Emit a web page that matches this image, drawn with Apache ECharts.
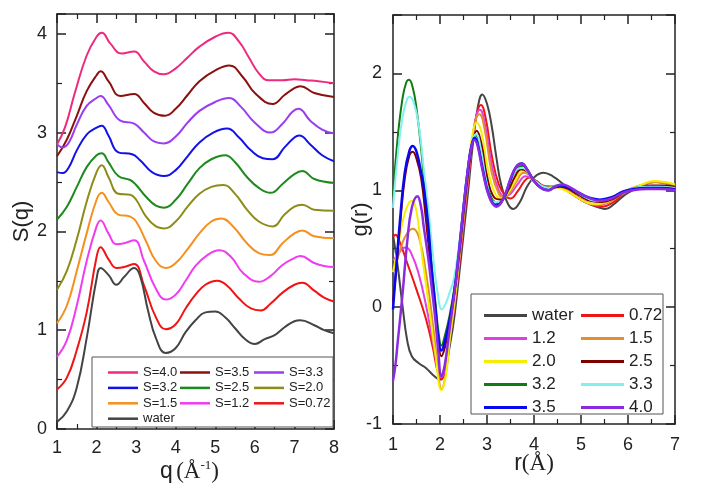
<!DOCTYPE html>
<html><head><meta charset="utf-8">
<script src="https://cdn.jsdelivr.net/npm/echarts@6/dist/echarts.min.js"></script>
<style>html,body{margin:0;padding:0;background:#fff}#c{width:709px;height:498px}</style>
</head><body><div id="c"></div><script>
// ---------- Left panel: S(q) ----------
const sqS40 = [[1.0,2.88],[1.2,3.05],[1.45,3.40],[1.75,3.78],[2.0,3.97],[2.13,4.01],[2.35,3.90],[2.63,3.80],[2.95,3.82],[3.2,3.72],[3.45,3.62],[3.7,3.59],[4.0,3.65],[4.3,3.76],[4.6,3.87],[5.0,3.97],[5.33,4.01],[5.6,3.92],[5.85,3.76],[6.1,3.60],[6.35,3.53],[6.7,3.53],[7.0,3.54],[7.3,3.53],[7.6,3.52],[8.0,3.50]];
const sqS35 = [[1.0,2.76],[1.25,2.93],[1.5,3.17],[1.75,3.42],[2.0,3.58],[2.1,3.62],[2.3,3.52],[2.6,3.37],[2.95,3.39],[3.2,3.30],[3.45,3.20],[3.73,3.17],[4.0,3.24],[4.3,3.38],[4.6,3.52],[5.0,3.63],[5.35,3.68],[5.7,3.56],[6.0,3.40],[6.45,3.29],[6.75,3.38],[7.0,3.45],[7.15,3.47],[7.5,3.40],[8.0,3.36]];
const sqS33 = [[1.0,2.88],[1.15,2.85],[1.3,2.90],[1.5,3.08],[1.75,3.27],[2.0,3.35],[2.1,3.37],[2.3,3.28],[2.6,3.12],[2.95,3.09],[3.2,3.00],[3.45,2.91],[3.7,2.89],[4.0,2.96],[4.3,3.10],[4.6,3.22],[5.0,3.31],[5.35,3.35],[5.65,3.26],[6.0,3.10],[6.4,3.00],[6.7,3.09],[6.95,3.21],[7.1,3.24],[7.4,3.12],[7.7,3.03],[8.0,2.99]];
const sqS32 = [[1.0,2.60],[1.15,2.59],[1.3,2.65],[1.5,2.82],[1.75,2.98],[2.0,3.05],[2.13,3.07],[2.3,2.97],[2.55,2.80],[2.9,2.78],[3.1,2.72],[3.4,2.60],[3.7,2.56],[4.0,2.62],[4.3,2.76],[4.6,2.90],[4.95,3.00],[5.3,3.04],[5.6,2.95],[5.9,2.82],[6.2,2.74],[6.45,2.73],[6.75,2.85],[7.0,2.95],[7.12,2.97],[7.4,2.88],[7.7,2.77],[8.0,2.71]];
const sqS25 = [[1.0,2.12],[1.25,2.25],[1.5,2.45],[1.75,2.65],[2.0,2.77],[2.13,2.79],[2.3,2.70],[2.55,2.56],[2.85,2.52],[3.0,2.47],[3.25,2.35],[3.5,2.26],[3.7,2.24],[4.0,2.32],[4.3,2.48],[4.6,2.64],[4.9,2.73],[5.25,2.77],[5.5,2.70],[5.8,2.55],[6.1,2.44],[6.4,2.39],[6.7,2.48],[7.0,2.58],[7.2,2.61],[7.5,2.53],[8.0,2.49]];
const sqS20 = [[1.0,1.41],[1.25,1.60],[1.5,1.92],[1.75,2.30],[2.0,2.60],[2.13,2.67],[2.3,2.55],[2.55,2.38],[2.85,2.37],[3.0,2.32],[3.25,2.15],[3.5,2.05],[3.7,2.03],[4.0,2.10],[4.3,2.25],[4.6,2.38],[4.9,2.45],[5.2,2.47],[5.5,2.38],[5.8,2.22],[6.1,2.10],[6.45,2.05],[6.75,2.17],[7.0,2.25],[7.2,2.27],[7.5,2.22],[8.0,2.21]];
const sqS15 = [[1.0,1.07],[1.25,1.25],[1.5,1.60],[1.75,1.98],[2.0,2.32],[2.13,2.39],[2.3,2.30],[2.55,2.17],[2.85,2.15],[3.0,2.10],[3.25,1.90],[3.5,1.70],[3.75,1.63],[4.0,1.68],[4.3,1.82],[4.6,1.98],[4.9,2.10],[5.15,2.13],[5.45,2.05],[5.8,1.88],[6.1,1.78],[6.38,1.76],[6.7,1.88],[7.0,1.98],[7.2,2.01],[7.5,1.95],[8.0,1.93]];
const sqS12 = [[1.0,0.73],[1.25,0.90],[1.5,1.25],[1.75,1.70],[2.0,2.05],[2.1,2.11],[2.3,1.98],[2.5,1.87],[2.7,1.88],[2.95,1.91],[3.2,1.70],[3.5,1.42],[3.75,1.31],[4.0,1.36],[4.25,1.50],[4.5,1.65],[4.8,1.76],[5.1,1.81],[5.4,1.74],[5.7,1.58],[6.1,1.49],[6.4,1.55],[6.7,1.66],[7.0,1.73],[7.15,1.75],[7.5,1.68],[7.75,1.65],[8.0,1.64]];
const sqS072 = [[1.0,0.40],[1.25,0.52],[1.5,0.80],[1.75,1.18],[2.0,1.74],[2.1,1.84],[2.3,1.72],[2.5,1.63],[2.7,1.64],[2.95,1.67],[3.2,1.45],[3.5,1.13],[3.75,1.01],[4.0,1.06],[4.25,1.22],[4.5,1.36],[4.75,1.46],[5.05,1.50],[5.3,1.45],[5.6,1.32],[5.9,1.22],[6.15,1.20],[6.4,1.27],[6.7,1.38],[7.0,1.46],[7.2,1.48],[7.5,1.40],[7.75,1.33],[8.0,1.29]];
const sqWater = [[1.0,0.07],[1.25,0.18],[1.5,0.42],[1.75,0.92],[2.0,1.52],[2.1,1.63],[2.3,1.56],[2.5,1.46],[2.7,1.54],[2.95,1.63],[3.1,1.55],[3.3,1.20],[3.5,0.92],[3.75,0.77],[4.0,0.82],[4.25,0.98],[4.5,1.10],[4.75,1.18],[5.0,1.19],[5.25,1.13],[5.5,1.02],[5.75,0.91],[6.0,0.86],[6.25,0.91],[6.5,0.95],[6.75,1.03],[7.0,1.09],[7.15,1.10],[7.5,1.05],[7.75,1.00],[8.0,0.97]];

const sqNames = ['S=4.0','S=3.5','S=3.3','S=3.2','S=2.5','S=2.0','S=1.5','S=1.2','S=0.72','water'];
const sqData = [sqS40,sqS35,sqS33,sqS32,sqS25,sqS20,sqS15,sqS12,sqS072,sqWater];
const sqColors = ['#ec2a7e','#8b1010','#9a3cf0','#1212e8','#1e8a1e','#8c8c18','#f5901e','#f03cf0','#f01414','#444444'];

// ---------- Right panel: g(r) ----------
const grWater = [[1.0,0.62],[1.1,0.35],[1.2,0.02],[1.3,-0.28],[1.4,-0.42],[1.55,-0.48],[1.7,-0.52],[1.85,-0.58],[2.0,-0.62],[2.1,-0.56],[2.2,-0.35],[2.3,-0.1],[2.4,0.25],[2.5,0.62],[2.6,1.0],[2.7,1.4],[2.8,1.7],[2.9,1.82],[3.0,1.74],[3.1,1.55],[3.2,1.28],[3.3,1.05],[3.45,0.88],[3.56,0.84],[3.7,0.9],[3.85,1.03],[4.0,1.11],[4.2,1.15],[4.4,1.12],[4.6,1.06],[4.8,0.99],[5.0,0.92],[5.2,0.88],[5.4,0.85],[5.52,0.84],[5.7,0.88],[5.9,0.95],[6.1,1.0],[6.3,1.02],[6.5,1.03],[6.7,1.03],[7.0,1.02]];
const gr072 = [[1.0,0.60],[1.05,0.62],[1.15,0.55],[1.3,0.38],[1.5,0.15],[1.7,-0.1],[1.85,-0.35],[1.95,-0.55],[2.03,-0.62],[2.12,-0.5],[2.2,-0.28],[2.3,-0.02],[2.4,0.32],[2.5,0.7],[2.6,1.08],[2.7,1.45],[2.8,1.68],[2.87,1.73],[2.97,1.62],[3.1,1.3],[3.25,1.05],[3.4,0.95],[3.5,0.93],[3.65,0.99],[3.8,1.08],[3.9,1.11],[4.05,1.08],[4.2,1.04],[4.4,1.03],[4.6,1.02],[4.8,0.97],[5.0,0.92],[5.2,0.88],[5.45,0.86],[5.7,0.9],[5.9,0.97],[6.1,1.01],[6.3,1.04],[6.55,1.07],[6.8,1.06],[7.0,1.04]];
const gr12 = [[1.0,0.40],[1.1,0.45],[1.2,0.50],[1.28,0.51],[1.4,0.45],[1.55,0.28],[1.7,0.02],[1.85,-0.3],[1.95,-0.5],[2.03,-0.6],[2.12,-0.5],[2.2,-0.27],[2.3,0.0],[2.4,0.35],[2.5,0.73],[2.6,1.1],[2.7,1.46],[2.78,1.65],[2.85,1.69],[2.95,1.58],[3.1,1.22],[3.25,1.0],[3.38,0.95],[3.5,0.97],[3.65,1.05],[3.82,1.12],[3.95,1.10],[4.1,1.05],[4.3,1.03],[4.5,1.04],[4.7,1.0],[4.9,0.95],[5.1,0.9],[5.35,0.87],[5.6,0.9],[5.85,0.97],[6.1,1.02],[6.35,1.05],[6.6,1.07],[6.8,1.06],[7.0,1.04]];
const gr15 = [[1.0,0.30],[1.1,0.42],[1.2,0.55],[1.3,0.63],[1.42,0.67],[1.55,0.6],[1.7,0.3],[1.85,-0.15],[1.95,-0.5],[2.03,-0.70],[2.12,-0.58],[2.2,-0.3],[2.3,0.0],[2.4,0.36],[2.5,0.75],[2.6,1.12],[2.7,1.47],[2.77,1.62],[2.84,1.65],[2.95,1.52],[3.1,1.15],[3.25,0.97],[3.35,0.94],[3.48,0.98],[3.62,1.07],[3.78,1.15],[3.9,1.13],[4.05,1.06],[4.25,1.02],[4.45,1.03],[4.65,1.01],[4.85,0.96],[5.1,0.9],[5.35,0.88],[5.6,0.9],[5.85,0.96],[6.1,1.01],[6.35,1.05],[6.6,1.07],[6.8,1.06],[7.0,1.04]];
const gr20 = [[1.0,0.3],[1.1,0.5],[1.2,0.72],[1.3,0.86],[1.4,0.91],[1.5,0.82],[1.6,0.5],[1.7,0.2],[1.8,-0.1],[1.9,-0.4],[2.03,-0.71],[2.12,-0.6],[2.2,-0.3],[2.3,0.02],[2.4,0.4],[2.5,0.8],[2.6,1.18],[2.7,1.5],[2.78,1.58],[2.88,1.5],[3.0,1.22],[3.15,0.99],[3.3,0.93],[3.45,0.98],[3.6,1.08],[3.75,1.17],[3.87,1.15],[4.0,1.07],[4.2,1.02],[4.4,1.03],[4.6,1.01],[4.8,0.97],[5.05,0.91],[5.3,0.88],[5.55,0.9],[5.8,0.96],[6.05,1.01],[6.3,1.05],[6.55,1.08],[6.8,1.07],[7.0,1.05]];
const gr25 = [[1.0,0.05],[1.07,0.32],[1.15,0.7],[1.25,1.1],[1.35,1.3],[1.42,1.33],[1.5,1.27],[1.6,1.1],[1.7,0.75],[1.8,0.35],[1.9,-0.05],[1.97,-0.32],[2.03,-0.42],[2.1,-0.35],[2.2,-0.15],[2.3,0.1],[2.4,0.42],[2.5,0.8],[2.6,1.15],[2.7,1.42],[2.78,1.51],[2.88,1.4],[3.0,1.12],[3.15,0.94],[3.3,0.92],[3.45,1.0],[3.6,1.12],[3.72,1.18],[3.85,1.16],[4.0,1.09],[4.2,1.03],[4.4,1.02],[4.55,1.03],[4.75,1.01],[4.95,0.96],[5.2,0.91],[5.45,0.9],[5.7,0.93],[5.95,0.99],[6.2,1.02],[6.5,1.04],[6.75,1.04],[7.0,1.03]];
const gr32 = [[1.0,0.95],[1.1,1.45],[1.2,1.78],[1.28,1.92],[1.34,1.945],[1.42,1.88],[1.5,1.7],[1.6,1.35],[1.7,0.9],[1.8,0.45],[1.9,0.05],[1.97,-0.22],[2.03,-0.33],[2.1,-0.25],[2.2,-0.08],[2.3,0.15],[2.4,0.48],[2.5,0.85],[2.6,1.2],[2.68,1.4],[2.76,1.47],[2.85,1.38],[2.95,1.15],[3.1,0.93],[3.25,0.89],[3.4,0.97],[3.52,1.1],[3.65,1.19],[3.76,1.21],[3.88,1.16],[4.0,1.09],[4.2,1.03],[4.35,1.02],[4.5,1.04],[4.65,1.04],[4.85,1.0],[5.05,0.95],[5.3,0.91],[5.55,0.92],[5.8,0.97],[6.05,1.01],[6.35,1.03],[6.65,1.03],[7.0,1.02]];
const gr33 = [[1.0,0.85],[1.1,1.3],[1.2,1.62],[1.3,1.78],[1.36,1.80],[1.45,1.74],[1.55,1.55],[1.65,1.2],[1.75,0.85],[1.85,0.45],[1.95,0.12],[2.04,-0.02],[2.12,0.03],[2.2,0.12],[2.3,0.25],[2.4,0.52],[2.5,0.87],[2.6,1.22],[2.7,1.44],[2.77,1.48],[2.87,1.35],[3.0,1.05],[3.15,0.9],[3.27,0.9],[3.4,0.98],[3.52,1.1],[3.64,1.18],[3.76,1.19],[3.88,1.15],[4.0,1.09],[4.2,1.03],[4.35,1.02],[4.5,1.04],[4.65,1.04],[4.85,1.0],[5.05,0.95],[5.3,0.91],[5.55,0.92],[5.8,0.97],[6.05,1.01],[6.35,1.03],[6.65,1.03],[7.0,1.02]];
const gr35 = [[1.0,-0.02],[1.07,0.35],[1.15,0.75],[1.25,1.15],[1.35,1.34],[1.42,1.38],[1.5,1.33],[1.6,1.15],[1.65,1.04],[1.75,0.7],[1.82,0.33],[1.9,0.0],[1.96,-0.25],[2.03,-0.37],[2.1,-0.3],[2.2,-0.12],[2.3,0.12],[2.4,0.46],[2.5,0.85],[2.6,1.2],[2.67,1.38],[2.74,1.45],[2.8,1.4],[2.9,1.2],[3.05,0.95],[3.2,0.87],[3.35,0.93],[3.5,1.09],[3.62,1.2],[3.74,1.23],[3.85,1.18],[4.0,1.08],[4.15,1.02],[4.3,1.0],[4.45,1.03],[4.6,1.04],[4.75,1.02],[4.95,0.98],[5.15,0.94],[5.4,0.92],[5.65,0.94],[5.9,0.99],[6.1,1.01],[6.4,1.02],[6.7,1.02],[7.0,1.01]];
const gr40 = [[1.0,-0.63],[1.05,-0.5],[1.1,-0.3],[1.2,0.1],[1.3,0.55],[1.4,0.85],[1.52,0.95],[1.6,0.85],[1.65,0.7],[1.75,0.42],[1.82,0.18],[1.9,-0.1],[1.96,-0.36],[2.03,-0.59],[2.1,-0.5],[2.2,-0.2],[2.3,0.1],[2.4,0.45],[2.5,0.85],[2.6,1.2],[2.67,1.37],[2.73,1.43],[2.8,1.38],[2.9,1.18],[3.05,0.94],[3.2,0.86],[3.35,0.93],[3.5,1.1],[3.62,1.2],[3.73,1.23],[3.85,1.18],[4.0,1.08],[4.15,1.02],[4.3,1.0],[4.45,1.03],[4.6,1.05],[4.75,1.03],[4.95,0.98],[5.15,0.94],[5.4,0.91],[5.65,0.93],[5.9,0.98],[6.1,1.0],[6.4,1.01],[6.7,1.01],[7.0,1.0]];

const grNames = ['water','0.72','1.2','1.5','2.0','2.5','3.2','3.3','3.5','4.0'];
const grData = [grWater,gr072,gr12,gr15,gr20,gr25,gr32,gr33,gr35,gr40];
const grColors = ['#444444','#f01414','#e040e0','#e0902e','#f4ee00','#800000','#127a12','#80f0f0','#0808f0','#8a2be2'];

// tick settings
const sqXTicks = {min:1, max:8, interval:1};
const sqYTicks = {min:0, max:4.2, interval:1};
const grXTicks = {min:1, max:7, interval:1};
const grYTicks = {min:-1, max:2.5, interval:1};

const AX = '#222';
const FONT = '"Liberation Sans", Arial, sans-serif';
const SERIF = '"Liberation Serif", "DejaVu Serif", serif';

function axisBase(t, showLabel, labelMargin, hideMax) {
  return Object.assign({
    type:'value',
    axisLine:{show:true, onZero:false, lineStyle:{color:AX, width:1.5}},
    axisTick:{show:true, inside:true, length:9, lineStyle:{color:AX, width:1.5}},
    minorTick:{show:true, splitNumber:2, length:5, lineStyle:{color:AX, width:1.2}},
    splitLine:{show:false},
    nameMoveOverlap:false,
    axisLabel:{show:showLabel, color:AX, fontSize:18, fontFamily:FONT, margin:labelMargin, showMaxLabel:!hideMax},
  }, t);
}

const chart = echarts.init(document.getElementById('c'), null, {renderer:'canvas'});

const series = [];
sqData.forEach((d,i)=>{
  series.push({type:'line', name:sqNames[i], data:d, xAxisIndex:0, yAxisIndex:0,
    smooth:0.45, symbol:'none', lineStyle:{color:sqColors[i], width:2}, itemStyle:{color:sqColors[i]}, z:2});
});
grData.forEach((d,i)=>{
  series.push({type:'line', name:grNames[i], data:d, xAxisIndex:2, yAxisIndex:2,
    smooth:0.45, symbol:'none', lineStyle:{color:grColors[i], width:(i>=8?2.5:2)}, itemStyle:{color:grColors[i]}, z:2});
});

const legL = {icon:'rect', textStyle:{color:AX, fontSize:13, fontFamily:FONT}, itemWidth:30, itemHeight:2.5, itemGap:2.4, orient:'vertical', selectedMode:false, z:10};
const legR = {icon:'rect', textStyle:{color:AX, fontSize:17, fontFamily:FONT}, itemWidth:43, itemHeight:3, itemGap:6, orient:'vertical', selectedMode:false, z:10};

const option = {
  backgroundColor:'#fff',
  animation:false,
  grid:[
    {left:57, right:375, top:14, bottom:69},
    {left:393, right:34, top:15, bottom:74}
  ],
  xAxis:[
    axisBase(Object.assign({gridIndex:0, position:'bottom',
      name:'{a|q} {b|(Å}{c|-1}{b|)}', nameLocation:'middle', nameGap:30,
      nameTextStyle:{padding:[0,12,0,0], rich:{a:{fontSize:23, fontFamily:FONT, color:AX}, b:{fontSize:23, fontFamily:SERIF, color:AX}, c:{fontSize:13, fontFamily:SERIF, color:AX, padding:[0,0,12,0]}}}
    }, sqXTicks), true, 10, false),
    axisBase(Object.assign({gridIndex:0, position:'top'}, sqXTicks), false, 8, false),
    axisBase(Object.assign({gridIndex:1, position:'bottom',
      name:'{a|r}{b|(Å)}', nameLocation:'middle', nameGap:28,
      nameTextStyle:{rich:{a:{fontSize:23, fontFamily:FONT, color:AX}, b:{fontSize:23, fontFamily:SERIF, color:AX}}}
    }, grXTicks), true, 12, false),
    axisBase(Object.assign({gridIndex:1, position:'top'}, grXTicks), false, 8, false)
  ],
  yAxis:[
    axisBase(Object.assign({gridIndex:0, position:'left', name:'S(q)', nameLocation:'middle', nameGap:24,
      nameTextStyle:{fontSize:22, fontFamily:FONT, color:AX}}, sqYTicks), true, 10, true),
    axisBase(Object.assign({gridIndex:0, position:'right'}, sqYTicks), false, 8, true),
    axisBase(Object.assign({gridIndex:1, position:'left', name:'g(r)', nameLocation:'middle', nameGap:21,
      nameTextStyle:{fontSize:22, fontFamily:FONT, color:AX}}, grYTicks), true, 11, true),
    axisBase(Object.assign({gridIndex:1, position:'right'}, grYTicks), false, 8, true)
  ],
  legend:[
    Object.assign({}, legL, {left:103, top:361, data:['S=4.0','S=3.2','S=1.5','water']}),
    Object.assign({}, legL, {left:175, top:361, data:['S=3.5','S=2.5','S=1.2']}),
    Object.assign({}, legL, {left:249, top:361, data:['S=3.3','S=2.0','S=0.72']}),
    Object.assign({}, legR, {left:479, top:302, data:['water','1.2','2.0','3.2','3.5']}),
    Object.assign({}, legR, {left:576, top:302, data:['0.72','1.5','2.5','3.3','4.0']})
  ],
  graphic:[
    {type:'rect', shape:{x:92, y:357, width:241, height:70}, style:{fill:'#fff', stroke:'#555', lineWidth:1}, z:5},
    {type:'rect', shape:{x:471, y:294, width:192, height:120}, style:{fill:'#fff', stroke:'#555', lineWidth:1}, z:5}
  ],
  series: series
};
chart.setOption(option);
</script></body></html>
